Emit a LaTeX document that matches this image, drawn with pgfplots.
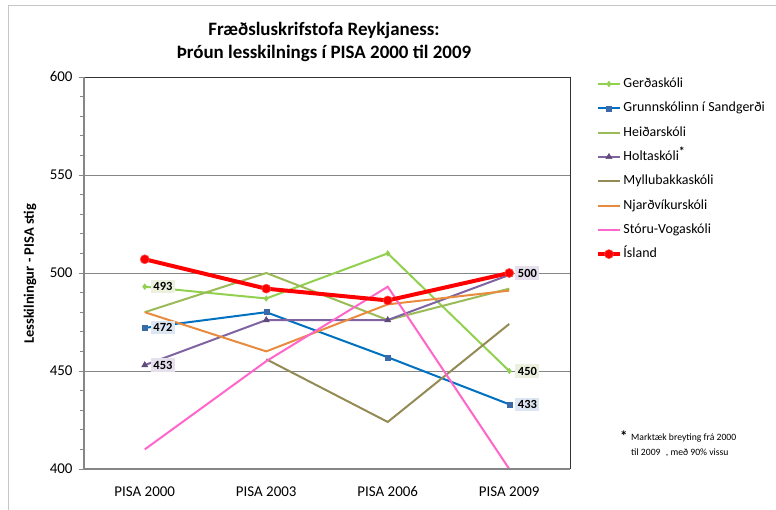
\documentclass[border=0pt]{standalone}
\usepackage{pgfplots}
\pgfplotsset{compat=1.18}
\usepackage{fontspec}
\setmainfont{Carlito}
\definecolor{gerda}{HTML}{92D050}
\definecolor{grunn}{HTML}{0070C0}
\definecolor{grunnm}{HTML}{3A6BA8}
\definecolor{heidar}{HTML}{9BBB59}
\definecolor{holt}{HTML}{8064A2}
\definecolor{holtm}{HTML}{604A7B}
\definecolor{mylla}{HTML}{948A54}
\definecolor{njard}{HTML}{E98B3F}
\definecolor{stora}{HTML}{FF66CC}
\definecolor{island}{HTML}{FF0000}
\definecolor{axgray}{HTML}{868686}
\definecolor{lblgreen}{HTML}{EBF1DE}
\definecolor{lblblue}{HTML}{DCE6F2}
\definecolor{lblpurple}{HTML}{E5E0EC}
\begin{document}
\begin{tikzpicture}[x=1bp,y=1bp]
\path[use as bounding box] (0,0) rectangle (776,510);
\draw[gray!45, line width=0.8bp] (8,0) -- (8,505) -- (776,505);
\node[font=\fontsize{19}{22}\selectfont\bfseries] at (324,480) {Fræðsluskrifstofa Reykjaness:};
\node[font=\fontsize{19}{22}\selectfont\bfseries] at (324,457) {Þróun lesskilnings í PISA 2000 til 2009};
\node[rotate=90, font=\fontsize{14.5}{16}\selectfont\bfseries] at (30,236) {Lesskilningur - PISA stig};
\begin{axis}[
  name=ax,
  at={(84bp,41bp)}, anchor=south west,
  scale only axis, width=486bp, height=392bp,
  xmin=-0.5, xmax=3.5, ymin=400, ymax=600,
  xtick={0,1,2,3},
  xticklabels={PISA 2000,PISA 2003,PISA 2006,PISA 2009},
  ytick={400,450,500,550,600},
  minor ytick={410,420,430,440,460,470,480,490,510,520,530,540,560,570,580,590},
  ytick pos=left,
  major x tick style={draw=none},
  tick align=outside,
  major tick length=5bp, minor tick length=4bp,
  every tick/.style={color=axgray, line width=0.8bp},
  ymajorgrids,
  major grid style={color=axgray, line width=0.9bp},
  axis line style={draw=none},
  tick label style={font=\fontsize{15}{17}\selectfont},
  /pgf/number format/assume math mode=true,
  yticklabel style={xshift=-3bp},
  xticklabel style={yshift=-9bp},
  legend style={at={(rel axis cs:1.053,1.003)}, anchor=north west, draw=none, fill=none,
    font=\fontsize{14}{16}\selectfont, row sep=8.3bp, inner sep=0pt,
    nodes={inner sep=1.5bp, text height=10bp, text depth=3bp}},
  legend cell align=left,
  legend image code/.code={\draw[mark repeat=2, mark phase=2, #1] plot coordinates {(0bp,0bp) (11bp,0bp) (22bp,0bp)};},
  clip=true,
]
\addplot[gerda, line width=2bp, mark=diamond*, mark size=2.8bp, mark options={fill=gerda, draw=gerda, line width=0.5bp}]
  coordinates {(0,493) (1,487) (2,510) (3,450)};
\addlegendentry{Gerðaskóli}
\addplot[grunn, line width=2bp, mark=square*, mark size=2.5bp, mark options={fill=grunnm, draw=grunnm, line width=0.5bp}]
  coordinates {(0,472) (1,480) (2,457) (3,433)};
\addlegendentry{Grunnskólinn í Sandgerði}
\addplot[heidar, line width=2bp, mark=none]
  coordinates {(0,480) (1,500) (2,476) (3,492)};
\addlegendentry{Heiðarskóli}
\addplot[holt, line width=2bp, mark=triangle*, mark size=3.5bp, mark options={fill=holtm, draw=holtm, line width=0.5bp}]
  coordinates {(0,453) (1,476) (2,476) (3,499)};
\addlegendentry{Holtaskóli\textsuperscript{\bfseries\large *}}
\addplot[mylla, line width=2bp, mark=none]
  coordinates {(1,456) (2,424) (3,474)};
\addlegendentry{Myllubakkaskóli}
\addplot[njard, line width=2bp, mark=none]
  coordinates {(0,480) (1,460) (2,484) (3,491)};
\addlegendentry{Njarðvíkurskóli}
\addplot[stora, line width=2bp, mark=none]
  coordinates {(0,410) (1,455) (2,493) (3,400)};
\addlegendentry{Stóru-Vogaskóli}
\addplot[island, line width=4bp, mark=*, mark size=4.5bp, mark options={fill=island, draw=island!70!white, line width=0.6bp}]
  coordinates {(0,507) (1,492) (2,486) (3,500)};
\addlegendentry{Ísland}
\node[anchor=west, fill=lblgreen, font=\fontsize{12.5}{14}\selectfont\bfseries, inner sep=2.5bp, xshift=6bp] at (axis cs:0,493) {493};
\node[anchor=west, fill=lblblue, font=\fontsize{12.5}{14}\selectfont\bfseries, inner sep=2.5bp, xshift=6bp] at (axis cs:0,472) {472};
\node[anchor=west, fill=lblpurple, font=\fontsize{12.5}{14}\selectfont\bfseries, inner sep=2.5bp, xshift=6bp] at (axis cs:0,453) {453};
\node[anchor=west, fill=lblpurple, font=\fontsize{12.5}{14}\selectfont\bfseries, inner sep=2.5bp, xshift=6bp] at (axis cs:3,500) {500};
\node[anchor=west, fill=lblgreen, font=\fontsize{12.5}{14}\selectfont\bfseries, inner sep=2.5bp, xshift=6bp] at (axis cs:3,450) {450};
\node[anchor=west, fill=lblblue, font=\fontsize{12.5}{14}\selectfont\bfseries, inner sep=2.5bp, xshift=6bp] at (axis cs:3,433) {433};
\end{axis}
\draw[black!80, line width=0.8bp] (ax.north west) -- (ax.north east) -- (ax.south east);
\draw[axgray, line width=1.5bp] (ax.north west) -- (ax.south west) -- (ax.south east);
\node[anchor=north west, font=\fontsize{15}{15}\selectfont\bfseries, inner sep=0pt] at (620,79) {*};
\node[anchor=north west, align=left, font=\fontsize{9.7}{15}\selectfont, inner sep=0pt] at (631,76) {Marktæk breyting frá 2000\\til 2009\,\, , með 90\% vissu};
\end{tikzpicture}
\end{document}
